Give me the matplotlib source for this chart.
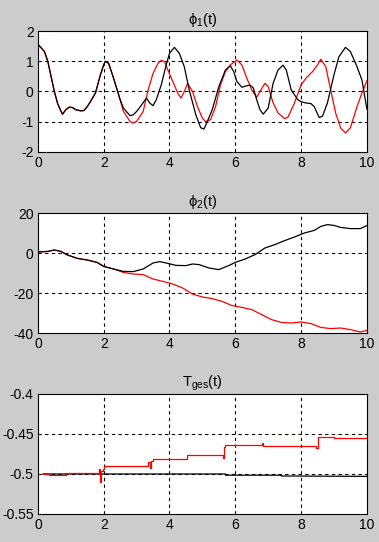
import numpy as np
import matplotlib
matplotlib.use("Agg")
import matplotlib.pyplot as plt

# phi_1(t)
t1_black = [0, 0.2, 0.3, 0.4, 0.5, 0.6, 0.7, 0.75, 0.85, 0.95, 1.05, 1.15, 1.3, 1.4, 1.5, 1.6, 1.75, 1.9, 2.0, 2.05,
            2.15, 2.3, 2.5, 2.6, 2.8, 2.9, 3.0, 3.1, 3.3, 3.4, 3.5, 3.6, 3.75, 3.9, 4.0, 4.15, 4.3, 4.45, 4.6, 4.8,
            4.95, 5.05, 5.15, 5.3, 5.5, 5.7, 5.85, 5.95, 6.05, 6.2, 6.35, 6.45, 6.55, 6.65, 6.75, 6.85, 7.0, 7.15,
            7.3, 7.45, 7.55, 7.7, 7.9, 8.0, 8.15, 8.3, 8.4, 8.55, 8.65, 8.8, 9.0, 9.15, 9.35, 9.5, 9.7, 9.85, 10]
phi1_black = [1.56, 1.32, 1.0, 0.5, 0.0, -0.4, -0.65, -0.75, -0.6, -0.52, -0.53, -0.6, -0.64, -0.63, -0.5, -0.33,
              -0.05, 0.55, 0.88, 1.0, 0.93, 0.44, -0.27, -0.55, -0.8, -0.77, -0.66, -0.52, -0.22, -0.38, -0.47, -0.27,
              0.22, 0.88, 1.26, 1.46, 1.26, 0.82, 0.05, -0.77, -1.2, -1.24, -0.99, -0.6, 0.16, 0.71, 0.85, 0.66, 0.33,
              0.14, 0.19, 0.21, 0.11, -0.27, -0.6, -0.75, -0.55, 0.27, 0.71, 0.87, 0.71, 0.05, -0.27, -0.34, -0.38,
              -0.4, -0.5, -0.86, -0.82, -0.38, 0.55, 1.15, 1.46, 1.32, 0.82, 0.38, -0.58]
t1_red = [0, 0.2, 0.3, 0.4, 0.5, 0.6, 0.7, 0.75, 0.85, 0.95, 1.05, 1.15, 1.3, 1.4, 1.5, 1.6, 1.75, 1.9, 2.0, 2.05,
          2.15, 2.3, 2.5, 2.6, 2.8, 2.9, 3.0, 3.2, 3.35, 3.5, 3.65, 3.75, 3.85, 3.95, 4.1, 4.25, 4.35, 4.45, 4.55,
          4.7, 4.85, 5.0, 5.1, 5.25, 5.4, 5.55, 5.7, 5.85, 6.05, 6.2, 6.35, 6.5, 6.65, 6.75, 6.9, 7.0, 7.15, 7.3,
          7.5, 7.6, 7.8, 8.0, 8.15, 8.35, 8.5, 8.6, 8.75, 8.9, 9.05, 9.2, 9.35, 9.5, 9.7, 9.85, 10]
phi1_red = [1.56, 1.32, 1.0, 0.5, 0.0, -0.4, -0.65, -0.75, -0.6, -0.52, -0.53, -0.6, -0.64, -0.63, -0.5, -0.33,
            -0.05, 0.55, 0.88, 1.0, 0.93, 0.44, -0.27, -0.66, -0.99, -1.04, -0.99, -0.66, 0.05, 0.6, 0.93, 1.03,
            0.99, 0.71, 0.33, -0.05, -0.22, 0.0, 0.27, 0.0, -0.5, -0.88, -1.0, -0.93, -0.5, 0.22, 0.66, 0.88, 1.04,
            0.88, 0.44, 0.05, -0.19, 0.0, 0.27, 0.16, -0.38, -0.71, -0.9, -0.85, -0.38, 0.22, 0.44, 0.66, 0.88,
            1.07, 0.82, 0.05, -0.71, -1.2, -1.37, -1.2, -0.5, -0.05, 0.35]

# phi_2(t)
t2_black = [0, 0.3, 0.5, 0.7, 0.9, 1.2, 1.5, 1.8, 2.0, 2.3, 2.6, 2.9, 3.2, 3.5, 3.7, 3.9, 4.2, 4.5, 4.7, 4.9, 5.2,
            5.5, 5.8, 6.0, 6.3, 6.6, 6.9, 7.2, 7.5, 7.8, 8.1, 8.4, 8.6, 8.8, 9.0, 9.2, 9.5, 9.8, 10]
phi2_black = [0.5, 0.8, 1.5, 0.8, -1.0, -2.7, -3.5, -4.7, -6.7, -8.0, -9.2, -9.3, -8.0, -5.0, -4.3, -5.0, -6.2,
              -6.3, -5.5, -5.8, -7.5, -8.3, -6.3, -4.7, -3.0, -0.8, 2.5, 4.2, 6.2, 8.0, 10.0, 11.3, 13.3, 14.2,
              13.8, 12.8, 12.2, 12.2, 13.7]
t2_red = [0, 0.3, 0.5, 0.7, 0.9, 1.2, 1.5, 1.8, 2.0, 2.3, 2.6, 2.9, 3.2, 3.5, 3.8, 4.1, 4.4, 4.7, 5.0, 5.3, 5.6,
          5.9, 6.2, 6.5, 6.8, 7.1, 7.4, 7.7, 8.0, 8.3, 8.6, 8.9, 9.2, 9.5, 9.8, 10]
phi2_red = [0.5, 0.8, 1.5, 0.8, -1.0, -2.7, -3.5, -4.7, -6.7, -8.0, -9.7, -10.5, -10.8, -13.0, -14.2, -15.5,
            -17.5, -20.5, -22.0, -22.8, -24.2, -26.3, -27.2, -28.3, -30.8, -33.3, -34.7, -35.0, -34.5, -35.3,
            -37.2, -37.8, -37.5, -38.3, -39.5, -38.7]

# T_ges(t)
t3_black = [0.15, 5.7, 5.7, 7.4, 7.4, 10]
tges_black = [-0.5, -0.5, -0.5015, -0.5015, -0.5025, -0.503]
t3_red = [0.15, 0.35, 0.85, 1.85, 1.88, 1.9, 1.93, 1.97, 2.0, 3.3, 3.35, 3.4, 3.45, 3.5, 4.5, 4.52, 5.6, 5.62,
          5.65, 5.7, 6.75, 6.8, 6.85, 8.45, 8.5, 9.0, 9.1, 10]
tges_red = [-0.4995, -0.5017, -0.4982, -0.4935, -0.4965, -0.5095, -0.496, -0.4935, -0.4905, -0.4905, -0.4845,
            -0.4925, -0.4835, -0.4816, -0.4816, -0.4765, -0.4765, -0.4795, -0.4665, -0.4636, -0.4636, -0.4615,
            -0.465, -0.467, -0.454, -0.4555, -0.4553, -0.4553]

bg = "#cccccc"
plt.rcParams['font.family'] = ['Liberation Sans', 'DejaVu Sans']
plt.rcParams['mathtext.fontset'] = 'custom'
plt.rcParams['mathtext.rm'] = 'Liberation Sans'
plt.rcParams['mathtext.it'] = 'Liberation Sans'
fig = plt.figure(figsize=(3.79, 5.42), dpi=100, facecolor=bg)

positions = [[0.100, 0.7196, 0.868, 0.2232],
             [0.100, 0.3856, 0.868, 0.2214],
             [0.100, 0.0517, 0.868, 0.2214]]


def setup(ax, yticks, ylabels, gridy, title):
    ax.set_xlim(0, 10)
    ax.set_ylim(yticks[0], yticks[-1])
    ax.set_xticks([0, 2, 4, 6, 8, 10])
    ax.set_xticklabels(["0", "2", "4", "6", "8", "10"], fontsize=10)
    ax.set_yticks(yticks)
    ax.set_yticklabels(ylabels, fontsize=10)
    ax.tick_params(length=0, pad=3)
    for x in [2, 4, 6, 8]:
        ax.axvline(x, color="black", linestyle=(0, (3, 3)), linewidth=0.8, zorder=0)
    for y in gridy:
        ax.axhline(y, color="black", linestyle=(0, (3, 3)), linewidth=0.8, zorder=0)
    for s in ax.spines.values():
        s.set_linewidth(0.8)
    ax.set_title(title, fontsize=10.5, pad=5)


ax1 = fig.add_axes(positions[0])
ax1.plot(t1_red, phi1_red, color="red", linewidth=0.9)
ax1.plot(t1_black, phi1_black, color="black", linewidth=0.9)
setup(ax1, [-2, -1, 0, 1, 2], ["-2", "-1", "0", "1", "2"], [-1, 0, 1], "ϕ$_\\mathrm{1}$(t)")

ax2 = fig.add_axes(positions[1])
ax2.plot(t2_red, phi2_red, color="red", linewidth=0.9)
ax2.plot(t2_black, phi2_black, color="black", linewidth=0.9)
setup(ax2, [-40, -20, 0, 20], ["-40", "-20", "0", "20"], [-20, 0], "ϕ$_\\mathrm{2}$(t)")

ax3 = fig.add_axes(positions[2])
ax3.plot(t3_black, tges_black, color="black", linewidth=0.9)
ax3.step(t3_red, tges_red, where="post", color="red", linewidth=0.9)
setup(ax3, [-0.55, -0.5, -0.45, -0.4], ["-0.55", "-0.5", "-0.45", "-0.4"], [-0.5, -0.45], "T$_\\mathrm{ges}$(t)")

fig.savefig("out.png", dpi=100, facecolor=bg)
